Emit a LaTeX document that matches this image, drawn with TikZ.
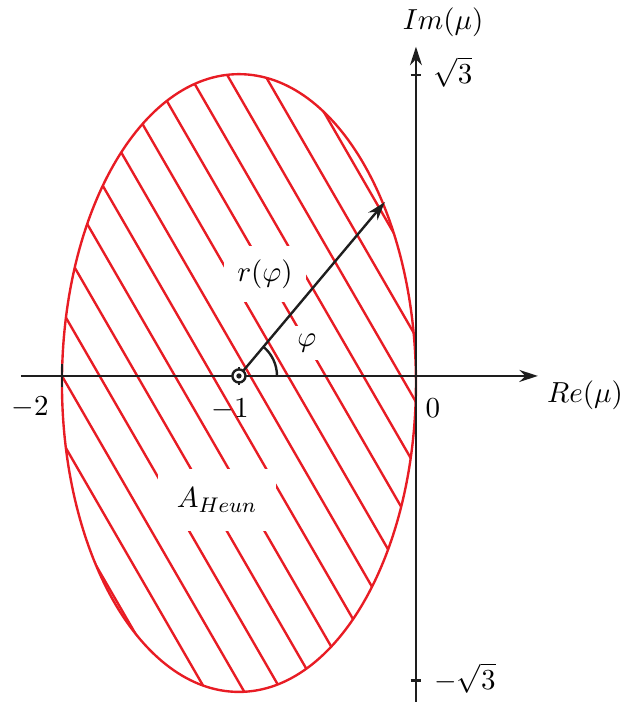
\documentclass[11pt,tikz,border=0pt]{standalone}
\usepackage{amsmath,amssymb}
\usetikzlibrary{arrows.meta}
\definecolor{hatchred}{RGB}{232,28,36}
\definecolor{axisgray}{RGB}{30,30,30}

\begin{document}
\begin{tikzpicture}[x=2.35cm,y=2.35cm,>={Stealth[length=7pt,width=4.5pt]},line width=0.9pt]
    \useasboundingbox (-2.350,-1.842) rectangle (1.164,2.124);
    \coordinate (c) at (-1,0);
    \coordinate (xs) at (-2.232,0);
    \coordinate (xe) at (0.689,0);
    \coordinate (ys) at (0,-1.842);
    \coordinate (ye) at (0,1.86);
    \coordinate (rp) at ([shift={(50:1.282)}]c);
    % hatching of the region
    \begin{scope}
      \clip (-1,-0.04) ellipse (1 and 1.745);
      \foreach \k in {-2,...,11}
        \draw[hatchred] ({-3.25+0.2128*\k},2.165) -- ({-0.75+0.2128*\k},-2.165);
    \end{scope}
    \draw[hatchred] (-1,-0.04) ellipse (1 and 1.745);
    % labels inside
    \node[fill=white,inner sep=5pt] (rlab) at (-0.853,0.576) {$r(\varphi)$};
    \node[fill=white,inner sep=3pt] (philab) at (-0.616,0.186) {$\varphi$};
    \node[fill=white,inner sep=7pt] (alab) at (-1.124,-0.70) {$A_{Heun}$};
    % axes
    \draw[->,axisgray] (xs) -- (xe);
    \draw[->,axisgray] (ys) -- (ye);
    \node (re) at (0.955,-0.107) {$Re(\mu)$};
    \node[inner sep=1pt] (im) at (0.153,2.0) {$Im(\mu)$};
    \draw[axisgray] (-2,-0.065) -- (-2,0.065);
    \draw[axisgray] (-0.03,1.70) -- (0.03,1.70);
    \draw[axisgray] (-0.03,-1.72) -- (0.03,-1.72);
    \draw[axisgray] (-1,-0.05) -- (-1,0.05);
    \node (m2) at (-2.18,-0.18) {$-2$};
    \node (m1) at (-1.05,-0.19) {$-1$};
    \node (zero) at (0.096,-0.18) {$0$};
    \node (s3) at (0.209,1.718) {$\sqrt{3}$};
    \node (ms3) at (0.277,-1.706) {$-\sqrt{3}$};
    % radius and angle
    \draw[->,axisgray] (c) -- (rp);
    \draw[axisgray] ([shift={(0:0.215)}]c) arc (0:50:0.215);
    \filldraw[axisgray,fill=white] (c) circle (0.037);
    \fill[axisgray] (c) circle (0.015);
  \end{tikzpicture}
\end{document}
